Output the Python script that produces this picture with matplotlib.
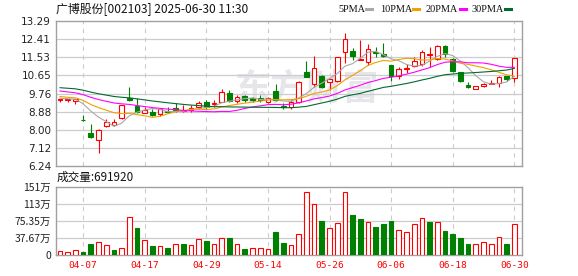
import numpy as np
import pandas as pd
import matplotlib
matplotlib.use('Agg')
from matplotlib import pyplot as plt

# --- dados ---
feriados = ['2025-04-04', '2025-05-01', '2025-05-02', '2025-05-05', '2025-06-02']
datas = [d for d in pd.bdate_range('2025-04-01', '2025-06-30') if d.strftime('%Y-%m-%d') not in feriados]
rotulos_x = ['04-07', '04-17', '04-29', '05-14', '05-26', '06-06', '06-18', '06-30']

abertura = [9.44, 9.45, 9.42, 8.49, 7.83, 7.48, 8.19, 8.22, 8.55, 9.53,
            9.16, 8.84, 8.89, 8.77, 8.92, 9.05, 8.93, 8.97, 9.10, 9.34,
            9.24, 9.37, 9.78, 9.42, 9.65, 9.53, 9.54, 9.33, 9.89, 9.18,
            9.10, 9.37, 10.83, 10.22, 10.62, 10.31, 10.40, 11.81, 11.84, 11.41,
            11.32, 11.81, 11.68, 11.16, 10.62, 10.97, 11.11, 11.19, 11.66, 11.45,
            12.08, 11.43, 10.80, 10.20, 9.98, 10.15, 10.23, 10.30, 10.62, 10.51]
maxima = [9.50, 9.50, 9.51, 8.72, 8.29, 8.06, 8.51, 8.51, 9.21, 10.10,
          9.53, 9.10, 9.00, 9.05, 9.09, 9.32, 9.21, 9.21, 9.41, 9.45,
          9.45, 9.97, 9.94, 9.68, 9.71, 9.62, 9.68, 9.58, 10.23, 9.29,
          9.45, 10.38, 11.35, 11.61, 10.67, 10.47, 11.53, 12.70, 11.97, 12.37,
          12.18, 12.02, 12.21, 11.16, 11.04, 11.19, 11.53, 11.89, 12.02, 12.13,
          12.13, 11.48, 10.83, 10.33, 10.12, 10.27, 10.43, 10.62, 10.62, 11.48]
minimas = [9.35, 9.36, 9.27, 8.45, 7.60, 6.89, 8.12, 8.20, 8.51, 9.42,
           8.84, 8.80, 8.67, 8.65, 8.84, 8.89, 8.89, 8.89, 9.00, 9.00,
           9.10, 9.34, 9.37, 9.32, 9.37, 9.36, 9.37, 9.32, 9.42, 9.00,
           9.00, 9.32, 10.56, 10.10, 10.05, 9.94, 10.35, 11.24, 11.40, 11.40,
           11.16, 11.56, 11.56, 10.40, 10.46, 10.75, 11.04, 11.13, 11.08, 11.40,
           11.56, 10.80, 10.33, 10.05, 9.97, 10.10, 10.22, 10.10, 10.38, 10.35]
fechamento = [9.48, 9.49, 9.50, 8.46, 7.64, 7.99, 8.40, 8.38, 9.19, 9.45,
              8.87, 8.94, 8.72, 8.99, 8.87, 8.97, 8.95, 9.05, 9.29, 9.13,
              9.29, 9.84, 9.41, 9.62, 9.43, 9.45, 9.47, 9.54, 9.45, 9.10,
              9.37, 10.31, 10.59, 11.00, 10.10, 10.46, 11.53, 12.41, 11.61, 11.43,
              11.92, 11.73, 11.60, 10.62, 10.95, 11.00, 11.35, 11.77, 11.68, 12.08,
              11.68, 10.87, 10.40, 10.10, 10.12, 10.21, 10.28, 10.56, 10.48, 11.48]
# fechamentos anteriores ao periodo (estimados pelas medias no inicio)
fech_anteriores = [10.30, 10.35, 10.42, 10.45, 10.40, 10.38, 10.36, 10.34, 10.35, 10.35,
                   10.40, 10.35, 10.28, 10.22, 10.15, 10.10, 10.05, 10.02, 10.00, 10.03,
                   9.85, 9.78, 9.70, 9.62, 9.55, 9.63, 9.61, 9.58, 9.40]
# volume em 万
volume = [9.5, 5.9, 10.2, 6.6, 24.1, 27.8, 21.2, 11.0, 14.6, 84.8,
          58.5, 32.2, 19.0, 19.0, 15.4, 23.4, 24.1, 21.9, 34.4, 30.7,
          23.4, 36.6, 37.3, 23.4, 12.4, 14.6, 14.6, 13.2, 50.5, 26.3,
          21.2, 45.4, 139.0, 113.4, 76.1, 58.5, 71.7, 139.0, 87.8, 79.0,
          73.9, 61.4, 68.0, 74.6, 54.1, 49.7, 69.5, 82.7, 72.4, 73.9,
          52.7, 46.1, 37.3, 24.1, 23.4, 27.8, 23.4, 38.8, 24.1, 69.19]
precos_ticks = ['6.24', '7.12', '8.00', '8.88', '9.76', '10.65', '11.53', '12.41', '13.29']
vol_ticks = [0, 37.67, 75.35, 113.0, 150.7]
vol_rotulos = ['0', '37.67万', '75.35万', '113万', '151万']
medias = [5, 10, 20, 30]
cores_medias = ['#a8a8a8', '#f0a000', '#ff00ff', '#006b2d']

W, H = 578, 276
VERMELHO = '#ff0000'
VERDE = '#008000'
CJK = ['Noto Sans CJK SC', 'DejaVu Sans']


def fx(px):
    return px / W


def fy(py):
    return 1 - py / H


o = np.array(abertura)
hi = np.array(maxima)
lo = np.array(minimas)
c = np.array(fechamento)
x = np.arange(len(c))
sobe = c >= o

todos = pd.Series(fech_anteriores + fechamento)
mm = {n: todos.rolling(n).mean().iloc[-len(c):].values for n in medias}

fig = plt.figure(figsize=(W / 100, H / 100), dpi=100)
ax = fig.add_axes([fx(56), fy(165.9), fx(522) - fx(56), (165.9 - 21.2) / H])
axv = fig.add_axes([fx(56), fy(255), fx(522) - fx(56), (255 - 186.7) / H])

pos_ticks = [datas.index(d) for d in datas if d.strftime('%m-%d') in rotulos_x]

for a in (ax, axv):
    for s in a.spines.values():
        s.set_color('#a0a0a0')
        s.set_linewidth(1.0)
    a.set_xlim(-0.52, len(c))
    a.tick_params(length=0, labelsize=7.5, colors='#222222', pad=3.5)
    for p in pos_ticks:
        a.axvline(p, color='#cccccc', lw=0.8, ls=(0, (4, 4)), zorder=0)

# marca d'agua
ax.text(0.54, 0.53, '东方财富', transform=ax.transAxes, ha='center', va='center',
        fontsize=26, fontweight='bold', color='#e6e6ea', family=CJK, zorder=0)

ylim = (6.24, 13.29)
ax.set_ylim(*ylim)
yt = np.linspace(ylim[0], ylim[1], len(precos_ticks))
ax.set_yticks(yt)
ax.set_yticklabels(precos_ticks)
for v in yt[1:-1]:
    ax.axhline(v, color='#cccccc', lw=0.9, zorder=0)
ax.set_xticks([])

topo = np.maximum(o, c)
base = np.minimum(o, c)
alt = np.maximum(topo - base, 0.015)
ax.vlines(x, topo, hi, color=np.where(sobe, VERMELHO, VERDE), lw=0.8, zorder=3)
ax.vlines(x, lo, base, color=np.where(sobe, VERMELHO, VERDE), lw=0.8, zorder=3)
ax.bar(x[sobe], alt[sobe], bottom=base[sobe], width=0.62, facecolor='white',
       edgecolor=VERMELHO, lw=0.8, zorder=3)
ax.bar(x[~sobe], alt[~sobe], bottom=base[~sobe], width=0.62, facecolor=VERDE,
       edgecolor=VERDE, lw=0.8, zorder=3)

for n, cor in zip(medias, cores_medias):
    ax.plot(x, mm[n], color=cor, lw=0.8, zorder=4)

# volume: cor pelo fechamento anterior
fech_ant = np.concatenate([[fech_anteriores[-1]], c[:-1]])
vsobe = c >= fech_ant
vol = np.array(volume)
axv.set_ylim(0, 150.7)
axv.set_yticks(vol_ticks)
axv.set_yticklabels(vol_rotulos, family=CJK)
for v in vol_ticks[1:-1]:
    axv.axhline(v, color='#cccccc', lw=0.9, zorder=0)
axv.bar(x[vsobe], vol[vsobe], width=0.62, facecolor='white', edgecolor=VERMELHO, lw=0.8, zorder=3)
axv.bar(x[~vsobe], vol[~vsobe], width=0.62, facecolor=VERDE, edgecolor=VERDE, lw=0.8, zorder=3)
axv.set_xticks(pos_ticks)
axv.set_xticklabels(rotulos_x, family='DejaVu Sans Mono', fontsize=6.8, color=VERMELHO)
axv.tick_params(axis='x', pad=4)

# textos
fig.text(fx(56), fy(8.5), '广博股份[002103] 2025-06-30 11:30', family=CJK, fontsize=8.6,
         color='#111111', va='center', ha='left')
fig.text(fx(57), fy(177), '成交量:691920', family=CJK, fontsize=8.4, color='#111111',
         va='center', ha='left')

leg_x = [338.5, 380.5, 425.5, 471.5]
leg_linha = [365.5, 413, 459.5, 505]
for n, cor, tx, lx in zip(medias, cores_medias, leg_x, leg_linha):
    fig.text(fx(tx), fy(9.5), f'{n}PMA', family='Liberation Serif', fontsize=7.4,
             color='#111111', va='center', ha='left')
    fig.add_artist(plt.Line2D([fx(lx), fx(lx + 6)], [fy(9.3), fy(9.3)], color=cor, lw=2.2,
                              transform=fig.transFigure))

fig.savefig('out.png', dpi=100)
